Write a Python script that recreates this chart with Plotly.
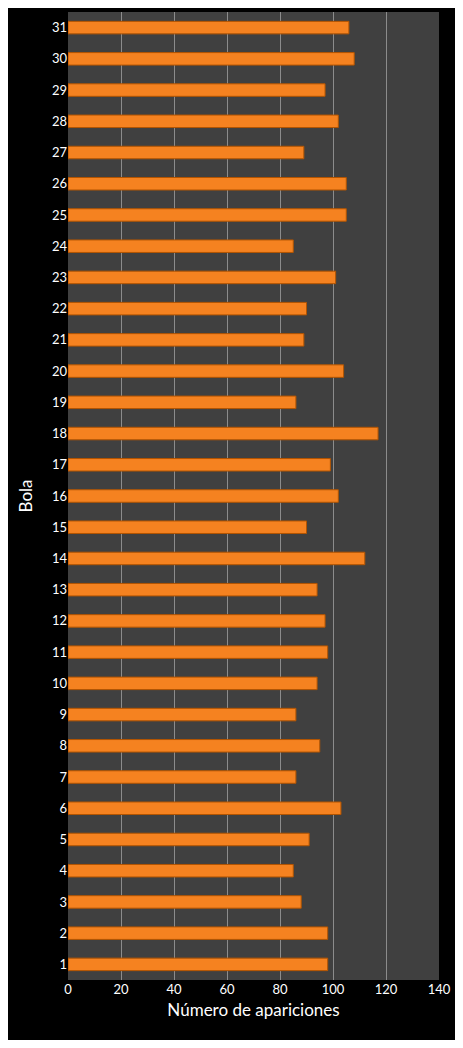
import plotly.graph_objects as go

bolas = [str(i) for i in range(1, 32)]
apariciones = [98, 98, 88, 85, 91, 103, 86, 95, 86, 94, 98, 97, 94, 112, 90, 102,
               99, 117, 86, 104, 89, 90, 101, 85, 105, 105, 89, 102, 97, 108, 106]

fig = go.Figure()
fig.add_trace(go.Bar(x=apariciones, y=bolas, orientation='h',
                     marker=dict(color='#F58220', line=dict(color='#B35400', width=1))))
# página con margen de 8px del navegador: se reduce el tamaño de la figura
fig.update_layout(width=447, height=1032, autosize=False,
                  paper_bgcolor='black', plot_bgcolor='#404040',
                  margin={'l': 60, 'r': 14, 't': 4, 'b': 60},
                  bargap=0.6, showlegend=False,
                  font=dict(family='Lato', color='white', size=12))
fig.update_xaxes(range=[0, 140], dtick=20, showgrid=True, gridcolor='#8c8c8c',
                 gridwidth=1, zeroline=False, ticks='',
                 title=dict(text='Número de apariciones', font=dict(size=17), standoff=8),
                 tickfont=dict(size=13))
fig.update_yaxes(type='category', showgrid=False, ticks='',
                 title=dict(text='Bola', font=dict(size=17), standoff=14),
                 tickfont=dict(size=13))
fig.write_html("out.html")
